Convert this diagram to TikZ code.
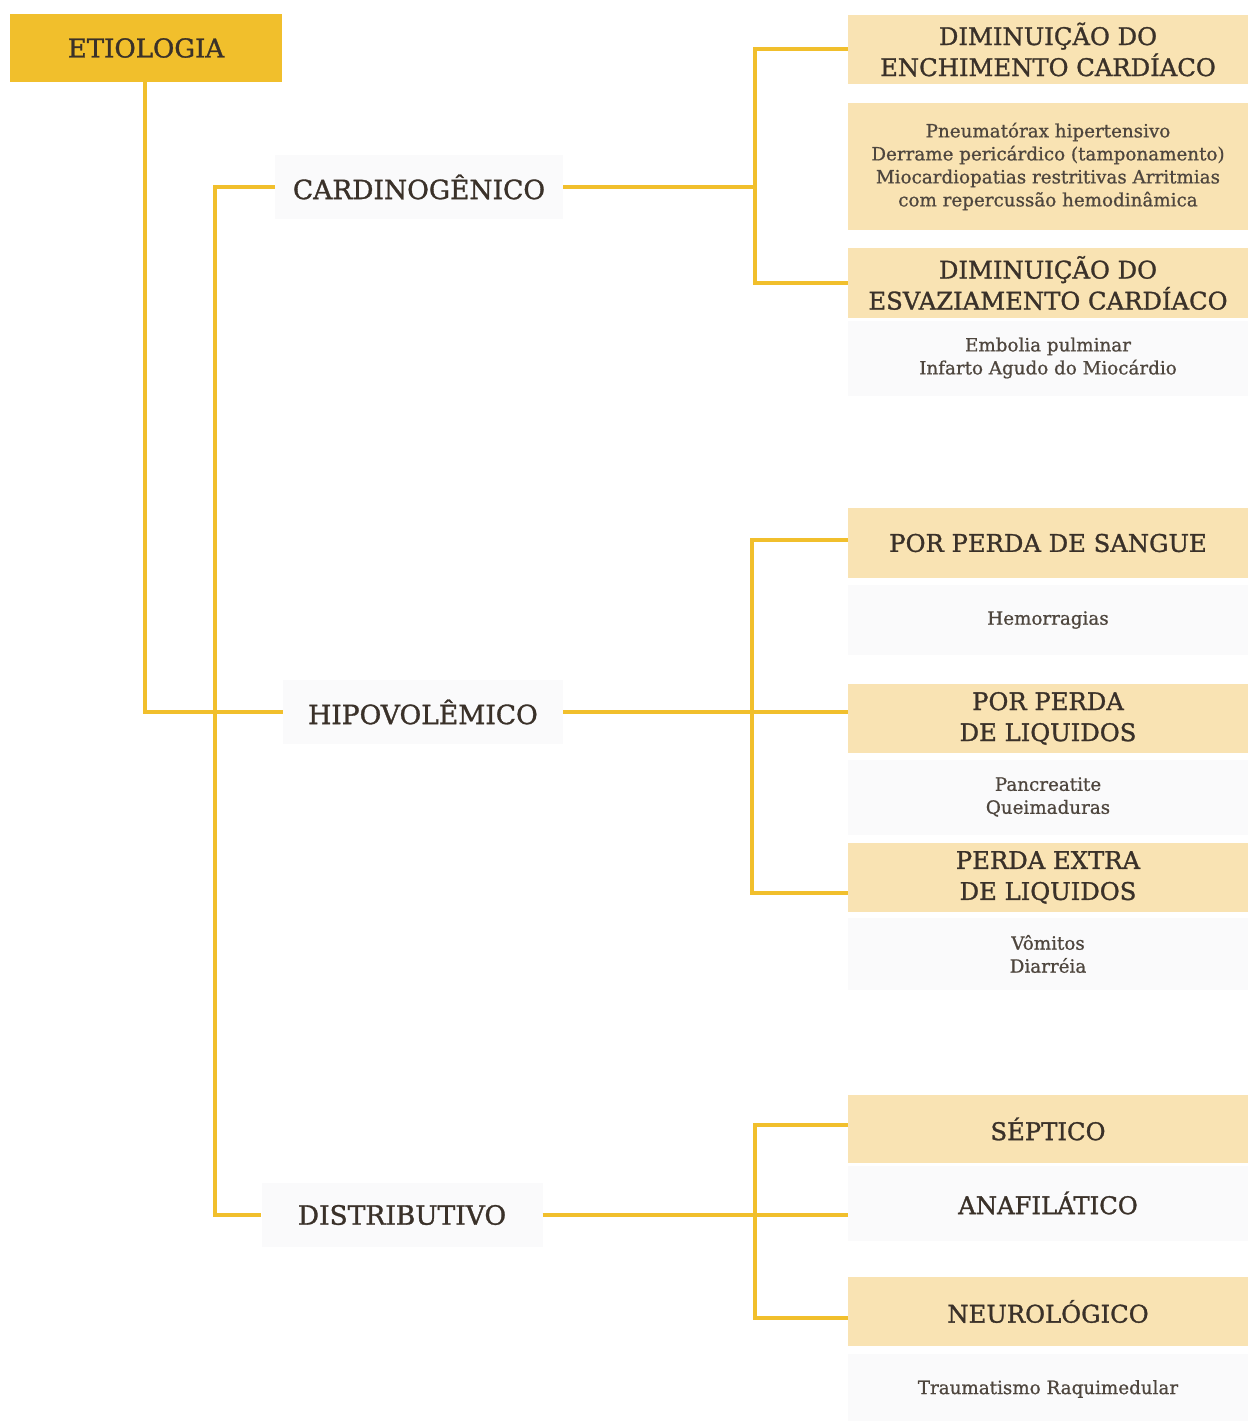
\documentclass[tikz,border=0pt]{standalone}
\usepackage{fontspec}
\setmainfont{DejaVu Serif}
\newfontfamily\slab[FakeBold=1.2]{DejaVu Serif}
\newfontfamily\slabnote[FakeBold=0.8]{DejaVu Serif}
\begin{document}
\definecolor{gold}{HTML}{F1BF2C}
\definecolor{pale}{HTML}{F9E3B3}
\definecolor{ink}{HTML}{3A3129}
\definecolor{mist}{HTML}{FAFAFB}
\begin{tikzpicture}[x=1pt,y=-1pt,
  link/.style={draw=gold,line width=4pt},
  rootbox/.style={fill=gold,text=ink,minimum width=272pt,minimum height=68pt,inner sep=0pt,font=\slab\fontsize{26}{30}\selectfont},
  typebox/.style={fill=mist,text=ink,minimum height=64pt,inner sep=0pt,font=\slab\fontsize{26.5}{30}\selectfont},
  headbox/.style={fill=pale,text=ink,minimum width=400pt,inner sep=0pt,align=center,font=\slab\fontsize{24.3}{31}\selectfont},
  notebox/.style={text=ink!90,minimum width=400pt,inner sep=0pt,align=center,font=\slabnote\fontsize{18.3}{23}\selectfont},
]
\useasboundingbox (0,0) rectangle (1248,1421);
\fill[white] (0,0) rectangle (1248,1421);

% root and the three kinds of shock
\node[rootbox] (etio) at (146,48) {ETIOLOGIA};
\node[typebox,minimum width=288pt] (cardio) at (419,187) {CARDINOGÊNICO};
\node[typebox,minimum width=280pt] (hipo) at (423,712) {HIPOVOLÊMICO};
\node[typebox,minimum width=281pt] (distr) at (402,1215) {DISTRIBUTIVO};

% right column: cardiogenic
\node[headbox,minimum height=69pt] (enchi) at (1048,49.5) {DIMINUIÇÃO DO\\ENCHIMENTO CARDÍACO};
\node[notebox,fill=pale,minimum height=127pt] (enchiN) at (1048,166.5) {Pneumatórax hipertensivo\\Derrame pericárdico (tamponamento)\\Miocardiopatias restritivas Arritmias\\com repercussão hemodinâmica};
\node[headbox,minimum height=70pt] (esva) at (1048,283) {DIMINUIÇÃO DO\\ESVAZIAMENTO CARDÍACO};
\node[notebox,fill=mist,minimum height=75pt] (esvaN) at (1048,358) {Embolia pulminar\\Infarto Agudo do Miocárdio};

% right column: hypovolemic
\node[headbox,minimum height=70pt] (sangue) at (1048,543) {POR PERDA DE SANGUE};
\node[notebox,fill=mist,minimum height=70pt] (sangueN) at (1048,620) {Hemorragias};
\node[headbox,minimum height=69pt] (liq) at (1048,718.5) {POR PERDA\\DE LIQUIDOS};
\node[notebox,fill=mist,minimum height=75pt] (liqN) at (1048,797) {Pancreatite\\Queimaduras};
\node[headbox,minimum height=69pt] (extra) at (1048,877.5) {PERDA EXTRA\\DE LIQUIDOS};
\node[notebox,fill=mist,minimum height=72pt] (extraN) at (1048,954) {Vômitos\\Diarréia};

% right column: distributive
\node[headbox,minimum height=68pt] (sept) at (1048,1129) {SÉPTICO};
\node[headbox,fill=mist,minimum height=75pt] (anaf) at (1048,1203) {ANAFILÁTICO};
\node[headbox,minimum height=69pt] (neuro) at (1048,1311.5) {NEUROLÓGICO};
\node[notebox,fill=mist,minimum height=71pt] (neuroN) at (1048,1389) {Traumatismo Raquimedular};

% trunk lines
\coordinate (tA) at (145,0);
\coordinate (tB) at (215,0);
\draw[link] (etio.south -| tA) -- (hipo.west -| tA) -- (hipo.west);
\draw[link] (cardio.west) -- (cardio.west -| tB) -- (distr.west -| tB) -- (distr.west);

% cardiogenic branch
\coordinate (bC) at (755,0);
\draw[link] (cardio.east) -- (cardio.east -| bC);
\draw[link] (enchi.west) -- (enchi.west -| bC) -- (esva.west -| bC) -- (esva.west);

% hypovolemic branch
\coordinate (hTop) at (752,540);
\coordinate (hBot) at (752,893);
\draw[link] (hipo.east) -- (hipo.east -| liq.west);
\draw[link] (sangue.west |- hTop) -- (hTop) -- (hBot) -- (extra.west |- hBot);

% distributive branch
\coordinate (dTop) at (755,1125);
\coordinate (dBot) at (755,1318);
\draw[link] (distr.east) -- (distr.east -| anaf.west);
\draw[link] (sept.west |- dTop) -- (dTop) -- (dBot) -- (neuro.west |- dBot);
\end{tikzpicture}
\end{document}
